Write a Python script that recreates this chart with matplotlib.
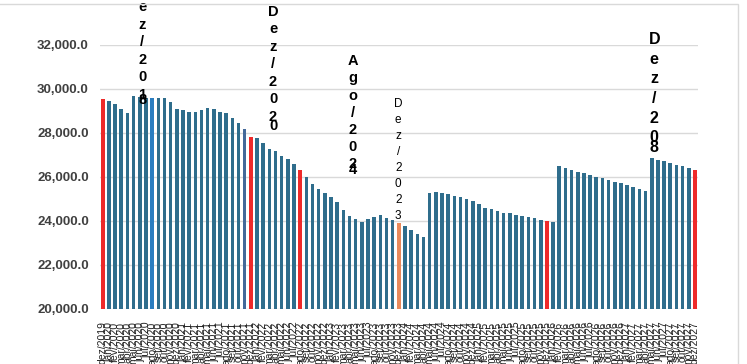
import matplotlib.pyplot as plt
from matplotlib.patches import Rectangle

plt.rcParams['font.family'] = ['Liberation Sans', 'DejaVu Sans']

# Valores mensais
valores = [29550, 29450, 29330, 29100, 28930, 29700, 29650, 29600, 29600, 29600,
           29570, 29430, 29090, 29030, 28960, 28960, 29040, 29130, 29070, 28970,
           28900, 28700, 28470, 28200, 27830, 27760, 27530, 27270, 27180, 26950,
           26810, 26570, 26320, 26020, 25700, 25470, 25270, 25110, 24870, 24480,
           24220, 24110, 23950, 24090, 24200, 24260, 24120, 24040, 23900, 23770,
           23580, 23420, 23270, 25290, 25300, 25280, 25220, 25150, 25100, 25020,
           24900, 24780, 24580, 24550, 24440, 24380, 24350, 24290, 24240, 24170,
           24120, 24060, 24000, 23960, 26480, 26410, 26320, 26240, 26170, 26090,
           26020, 25940, 25860, 25770, 25710, 25620, 25540, 25470, 25380, 26880,
           26790, 26720, 26630, 26560, 26490, 26410, 26320]

meses_abrev = ['jan', 'fev', 'mar', 'abr', 'mai', 'jun',
               'jul', 'ago', 'set', 'out', 'nov', 'dez']
rotulos = [f"{meses_abrev[(11 + i) % 12]}/{2019 + (11 + i) // 12}"
           for i in range(len(valores))]

yticks = [20000, 22000, 24000, 26000, 28000, 30000, 32000]

# Rotulos de destaque
anot_textos = ['Dez/2018', 'Dez/2020', 'Ago/2024', 'Dez/2023', 'Dez/208']

# estilos
cor_padrao = '#2f6d8c'
cores_destaque = {0: '#ee2a2a', 8: '#2a7dc0', 23: '#44699a', 24: '#ee2a2a',
                  32: '#ee2a2a', 48: '#e8895a', 72: '#ee2a2a', 96: '#ee2a2a'}
anot_x = [6.4, 27.6, 40.5, 47.9, 89.4]
anot_y = [34520, 33510, 31270, 29320, 32260]
anot_passo = [12.6, 12.6, 12.4, 11.5, 14.2]
anot_tam = [10.5, 10.5, 10.5, 8.5, 11.5]
anot_peso = ['bold', 'bold', 'bold', 'normal', 'bold']
anot_sobrepor = [0.3, 0.55, 0.3, 1.0, 0.5]

fig = plt.figure(figsize=(7.47, 3.64), dpi=100)
ax = fig.add_axes([100 / 747, 55 / 364, 598 / 747, 264 / 364])

cores = [cores_destaque.get(i, cor_padrao) for i in range(len(valores))]
x = list(range(len(valores)))
ax.bar(x, valores, width=0.58, color=cores, zorder=2)

ax.set_xlim(-0.45, len(valores) - 0.5)
ax.set_ylim(20000, 32000)
ax.set_yticks(yticks)
ax.set_yticklabels([f"{v:,.1f}" for v in yticks], fontsize=9.5,
                   fontweight='bold', color='#404040')
ax.set_xticks(x)
ax.set_xticklabels(rotulos, rotation=90, fontsize=7.5, color='#222222')
ax.tick_params(axis='both', length=0)
ax.tick_params(axis='x', pad=9)
ax.tick_params(axis='y', pad=8)
ax.grid(axis='y', color='#d9d9d9', linewidth=1, zorder=0)
for s in ax.spines.values():
    s.set_visible(False)

# rotulos verticais, um caractere por linha (descendo)
for txt, xa, ya, passo, tam, peso, sob in zip(anot_textos, anot_x, anot_y,
                                              anot_passo, anot_tam, anot_peso,
                                              anot_sobrepor):
    n = len(txt)
    for k, ch in enumerate(txt):
        dy = k * passo
        if k == n - 1:
            dy = (k - 1) * passo + sob * passo
        ax.annotate(ch, xy=(xa, ya), xytext=(0, -dy),
                    textcoords='offset points', ha='center', va='center',
                    fontsize=tam, fontweight=peso, color='black',
                    annotation_clip=False, zorder=5)

# moldura do grafico
fig.patches.append(Rectangle((-0.01, -0.05), 738 / 747 + 0.01, 1.05 - 4 / 364,
                             transform=fig.transFigure, fill=False,
                             edgecolor='#d9d9d9', linewidth=1))

fig.savefig('out.png', dpi=100)
